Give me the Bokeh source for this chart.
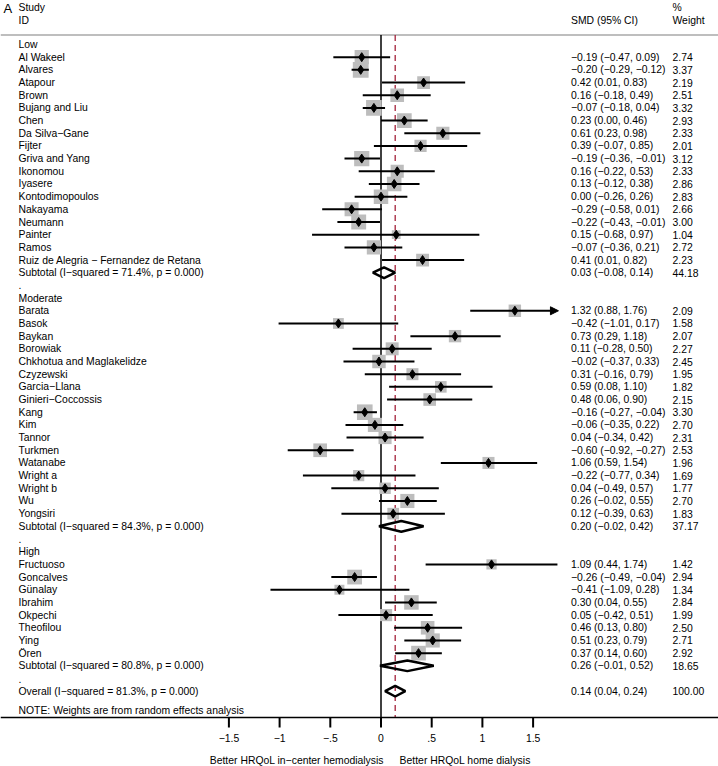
import math
from bokeh.plotting import figure
from bokeh.models import Range1d, Arrow, NormalHead
from bokeh.core.properties import value
from bokeh.embed import file_html
from bokeh.resources import INLINE

M = "\u2212"

# ---------------- data ----------------
group_labels = ["Low", "Moderate", "High"]

low_names = ["Al Wakeel", "Alvares", "Atapour", "Brown", "Bujang and Liu", "Chen",
             "Da Silva" + M + "Gane", "Fijter", "Griva and Yang", "Ikonomou", "Iyasere",
             "Kontodimopoulos", "Nakayama", "Neumann", "Painter", "Ramos",
             "Ruiz de Alegria " + M + " Fernandez de Retana"]
low_est = [-0.19, -0.20, 0.42, 0.16, -0.07, 0.23, 0.61, 0.39, -0.19, 0.16, 0.13, 0.00, -0.29, -0.22, 0.15, -0.07, 0.41]
low_lo = [-0.47, -0.29, 0.01, -0.18, -0.18, 0.00, 0.23, -0.07, -0.36, -0.22, -0.12, -0.26, -0.58, -0.43, -0.68, -0.36, 0.01]
low_hi = [0.09, -0.12, 0.83, 0.49, 0.04, 0.46, 0.98, 0.85, -0.01, 0.53, 0.38, 0.26, 0.01, -0.01, 0.97, 0.21, 0.82]
low_wt = [2.74, 3.37, 2.19, 2.51, 3.32, 2.93, 2.33, 2.01, 3.12, 2.33, 2.86, 2.83, 2.66, 3.00, 1.04, 2.72, 2.23]

mod_names = ["Barata", "Basok", "Baykan", "Borowiak", "Chkhotua and Maglakelidze", "Czyzewski",
             "Garcia" + M + "Llana", "Ginieri" + M + "Coccossis", "Kang", "Kim", "Tannor", "Turkmen",
             "Watanabe", "Wright a", "Wright b", "Wu", "Yongsiri"]
mod_est = [1.32, -0.42, 0.73, 0.11, -0.02, 0.31, 0.59, 0.48, -0.16, -0.06, 0.04, -0.60, 1.06, -0.22, 0.04, 0.26, 0.12]
mod_lo = [0.88, -1.01, 0.29, -0.28, -0.37, -0.16, 0.08, 0.06, -0.27, -0.35, -0.34, -0.92, 0.59, -0.77, -0.49, -0.02, -0.39]
mod_hi = [1.76, 0.17, 1.18, 0.50, 0.33, 0.79, 1.10, 0.90, -0.04, 0.22, 0.42, -0.27, 1.54, 0.34, 0.57, 0.55, 0.63]
mod_wt = [2.09, 1.58, 2.07, 2.27, 2.45, 1.95, 1.82, 2.15, 3.30, 2.70, 2.31, 2.53, 1.96, 1.69, 1.77, 2.70, 1.83]

high_names = ["Fructuoso", "Goncalves", "G\u00fcnalay", "Ibrahim", "Okpechi", "Theofilou", "Ying", "\u00d6ren"]
high_est = [1.09, -0.26, -0.41, 0.30, 0.05, 0.46, 0.51, 0.37]
high_lo = [0.44, -0.49, -1.09, 0.04, -0.42, 0.13, 0.23, 0.14]
high_hi = [1.74, -0.04, 0.28, 0.55, 0.51, 0.80, 0.79, 0.60]
high_wt = [1.42, 2.94, 1.34, 2.84, 1.99, 2.50, 2.71, 2.92]

sub_est = [0.03, 0.20, 0.26]
sub_lo = [-0.08, -0.02, -0.01]
sub_hi = [0.14, 0.42, 0.52]
sub_wt = [44.18, 37.17, 18.65]
sub_i2 = [71.4, 84.3, 80.8]
sub_p = [0.000, 0.000, 0.000]

overall_est = 0.14
overall_lo = 0.04
overall_hi = 0.24
overall_wt = 100.00
overall_i2 = 81.3
overall_p = 0.000

x_max = 1.75  # right limit of the effect-size scale (arrow beyond)
tick_vals = [-1.5, -1, -0.5, 0, 0.5, 1, 1.5]
tick_labels = [M + "1.5", M + "1", M + ".5", "0", ".5", "1", "1.5"]
favours = ["Better HRQoL in" + M + "center hemodialysis", "Better HRQoL home dialysis"]
favours_x = [-0.83, 0.83]

# ---------------- layout helpers ----------------
X0, SCALE = 380.5, 101.4      # page px of 0 and px per unit
ROW0, ROWH = 44.0, 12.68      # page y of row 1 and row height
W, H = 718, 766
AXIS_Y = 717


def xd(px):
    return (px - X0) / SCALE


def rd(py):
    return 1 + (py - ROW0) / ROWH


def fmt(v):
    return f"{v:.2f}".replace("-", M)


FONT = value("Liberation Sans")
FS = value("10.4px")

p = figure(width=W, height=H, output_backend="svg", toolbar_location=None, title=None,
           x_range=Range1d(xd(0), xd(W)),
           y_range=Range1d(rd(H), rd(0)),
           x_axis_location=None, y_axis_location=None,
           min_border_left=0, min_border_right=0, min_border_top=0, min_border_bottom=0)
p.xgrid.visible = False
p.ygrid.visible = False
p.outline_line_color = None
p.background_fill_color = "white"
p.border_fill_color = "white"

# build rows
names_txt, name_rows = [], []
smd_txt, wt_txt, stat_rows = [], [], []
s_x, s_y, s_sz = [], [], []
ci_x0, ci_x1, ci_y = [], [], []
arr = []
dia_xs, dia_ys = [], []

groups = [(low_names, low_est, low_lo, low_hi, low_wt),
          (mod_names, mod_est, mod_lo, mod_hi, mod_wt),
          (high_names, high_est, high_lo, high_hi, high_wt)]
r = 1
dh = 0.42
for gi, (nm, es, lo, hi, wt) in enumerate(groups):
    names_txt.append(group_labels[gi]); name_rows.append(r)
    r += 1
    for n, e, l, h, w in zip(nm, es, lo, hi, wt):
        names_txt.append(n); name_rows.append(r)
        smd_txt.append(f"{fmt(e)} ({fmt(l)}, {fmt(h)})"); wt_txt.append(f"{w:.2f}"); stat_rows.append(r)
        s_x.append(e); s_y.append(r); s_sz.append(8.6 * math.sqrt(w))
        if h > x_max:
            arr.append((l, x_max, r))
        else:
            ci_x0.append(l); ci_x1.append(h); ci_y.append(r)
        r += 1
    names_txt.append(f"Subtotal  (I{M}squared = {sub_i2[gi]:.1f}%, p = {sub_p[gi]:.3f})"); name_rows.append(r)
    smd_txt.append(f"{fmt(sub_est[gi])} ({fmt(sub_lo[gi])}, {fmt(sub_hi[gi])})")
    wt_txt.append(f"{sub_wt[gi]:.2f}"); stat_rows.append(r)
    dia_xs.append([sub_lo[gi], sub_est[gi], sub_hi[gi], sub_est[gi]])
    dia_ys.append([r, r - dh, r, r + dh])
    r += 1
    names_txt.append("."); name_rows.append(r)
    r += 1

names_txt.append(f"Overall  (I{M}squared = {overall_i2:.1f}%, p = {overall_p:.3f})"); name_rows.append(r)
smd_txt.append(f"{fmt(overall_est)} ({fmt(overall_lo)}, {fmt(overall_hi)})")
wt_txt.append(f"{overall_wt:.2f}"); stat_rows.append(r)
dia_xs.append([overall_lo, overall_est, overall_hi, overall_est])
dia_ys.append([r, r - dh, r, r + dh])
note_row = rd(710)

line_top = rd(34.5)
line_bot = rd(AXIS_Y)

# header line
p.segment(x0=[xd(0)], y0=[line_top], x1=[xd(W)], y1=[line_top], line_color="#a8a8a8", line_width=1.5)
# zero line and overall line
p.segment(x0=[0], y0=[line_top], x1=[0], y1=[line_bot], line_color="black", line_width=1.5)
p.segment(x0=[overall_est], y0=[line_top], x1=[overall_est], y1=[line_bot],
          line_color="#a3213a", line_width=1.3, line_dash="6 4")

# weight squares
p.scatter(x=s_x, y=s_y, size=s_sz, marker="square", fill_color="#bdbdbd", line_color=None)
# CIs
p.segment(x0=ci_x0, y0=ci_y, x1=ci_x1, y1=ci_y, line_color="black", line_width=2)
for (a0, a1, ry) in arr:
    p.add_layout(Arrow(x_start=a0, y_start=ry, x_end=a1, y_end=ry, line_width=2, line_color="black",
                       end=NormalHead(size=8, fill_color="black", line_color="black", line_width=1)))
# point estimates
p.scatter(x=s_x, y=s_y, size=9, marker="diamond", fill_color="black", line_color="black")
# pooled diamonds
p.patches(xs=dia_xs, ys=dia_ys, fill_color=None, line_color="black", line_width=2.5)

# texts
tx = dict(text_font=FONT, text_font_size=FS, text_color="black", text_baseline="middle", text_align="left")
p.text(x=[xd(18)] * len(names_txt), y=name_rows, text=names_txt, **tx)
p.text(x=[xd(570.5)] * len(smd_txt), y=stat_rows, text=smd_txt, **tx)
p.text(x=[xd(672)] * len(wt_txt), y=stat_rows, text=wt_txt, **tx)
p.text(x=[xd(18)], y=[note_row], text=["NOTE: Weights are from random effects analysis"], **tx)

# headers
p.text(x=[xd(3)], y=[rd(8)], text=["A"], text_font=FONT, text_font_size=value("13px"),
       text_baseline="middle", text_align="left", text_color="black")
p.text(x=[xd(18), xd(18)], y=[rd(7), rd(20)], text=["Study", "ID"], **tx)
p.text(x=[xd(570.5)], y=[rd(20)], text=["SMD (95% CI)"], **tx)
p.text(x=[xd(672), xd(672)], y=[rd(7), rd(20)], text=["%", "Weight"], **tx)

# x axis (effect-size scale): line, ticks, tick labels, favours labels
p.segment(x0=[xd(0)], y0=[rd(AXIS_Y)], x1=[xd(W)], y1=[rd(AXIS_Y)], line_color="black", line_width=1.5)
p.segment(x0=tick_vals, y0=[rd(AXIS_Y)] * len(tick_vals), x1=tick_vals, y1=[rd(AXIS_Y + 10)] * len(tick_vals),
          line_color="black", line_width=2)
p.text(x=tick_vals, y=[rd(737)] * len(tick_vals), text=tick_labels, text_font=FONT, text_font_size=FS,
       text_color="black", text_baseline="middle", text_align="center")
p.text(x=favours_x, y=[rd(760)] * 2, text=favours, text_font=FONT, text_font_size=FS,
       text_color="black", text_baseline="middle", text_align="center")

open("out.html", "w").write(file_html(p, INLINE))
